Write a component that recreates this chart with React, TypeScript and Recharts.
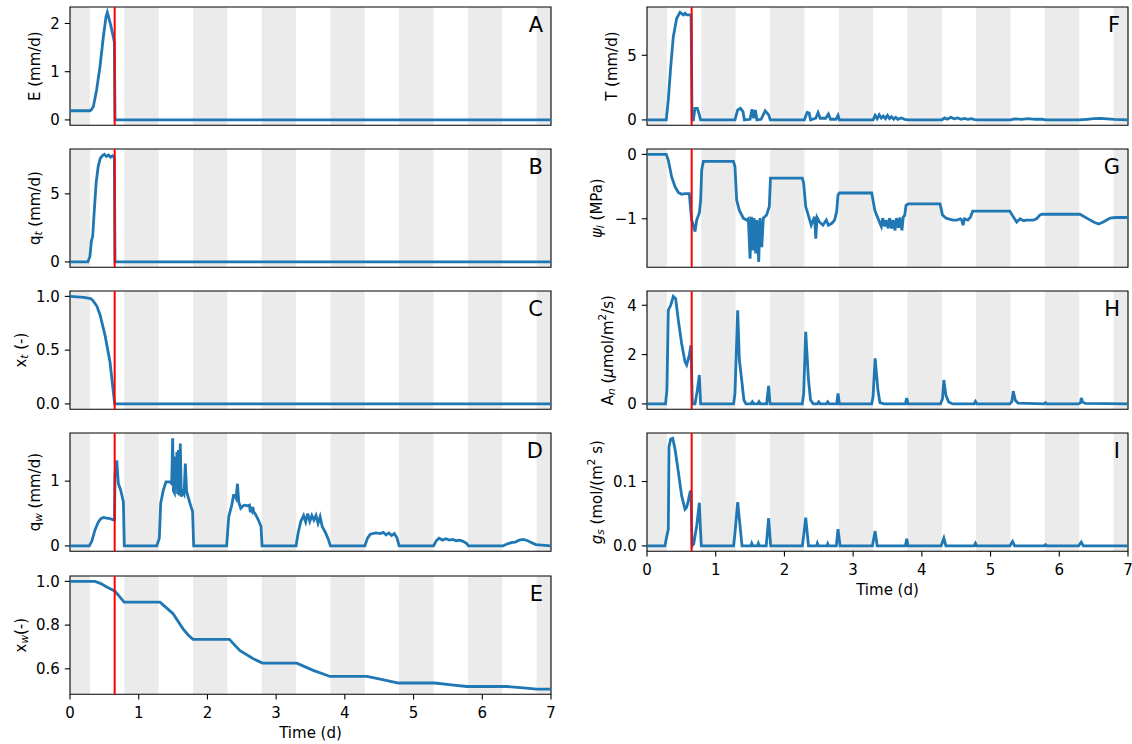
import React from 'react';
import { LineChart, Line, XAxis, YAxis, ReferenceArea, ReferenceLine } from 'recharts';

const FONT = 'DejaVu Sans';
const BLUE = '#1f77b4';
const RED = '#ff0000';
const GRAY = '#ebebeb';

// Night periods (days)
const NIGHT_START = [0, 0.79, 1.79, 2.79, 3.79, 4.79, 5.79, 6.79];
const NIGHT_END = [0.29, 1.29, 2.29, 3.29, 4.29, 5.29, 6.29, 7];
const EVENT_T = 0.65;
const X_TICKS = [0, 1, 2, 3, 4, 5, 6, 7];

// A: E (mm/d)
const tA = [0, 0.29, 0.31, 0.34, 0.387, 0.436, 0.485, 0.524, 0.543, 0.592, 0.645, 0.655, 7];
const vA = [0.19, 0.19, 0.21, 0.28, 0.62, 1.10, 1.72, 2.14, 2.23, 1.97, 1.62, 0, 0];

// B: q_t (mm/d)
const tB = [0, 0.26, 0.29, 0.31, 0.33, 0.35, 0.38, 0.41, 0.44, 0.47, 0.5, 0.53, 0.56, 0.59, 0.62, 0.645, 0.655, 7];
const vB = [0, 0, 0.4, 1.5, 1.9, 3.5, 5.8, 7.0, 7.6, 7.8, 7.9, 7.75, 7.85, 7.7, 7.8, 7.7, 0, 0];

// C: x_t (-)
const tC = [0, 0.2, 0.3, 0.335, 0.39, 0.437, 0.509, 0.582, 0.65, 7];
const vC = [1.0, 0.99, 0.98, 0.96, 0.91, 0.83, 0.64, 0.39, 0.0, 0];

// D: q_w (mm/d)
const tD = [0, 0.28, 0.316, 0.365, 0.413, 0.45, 0.486, 0.534, 0.583, 0.64, 0.648, 0.655, 0.68, 0.704, 0.738, 0.777, 0.79,
  1.262, 1.30, 1.32, 1.358, 1.397, 1.455, 1.48, 1.494, 1.505, 1.52, 1.53, 1.543, 1.556, 1.566, 1.578, 1.59, 1.605, 1.62, 1.64, 1.66, 1.678, 1.697, 1.745, 1.784, 1.80,
  2.28, 2.31, 2.354, 2.38, 2.40, 2.417, 2.437, 2.456, 2.485, 2.52, 2.548, 2.58, 2.611, 2.625, 2.635, 2.65, 2.66, 2.675, 2.693, 2.742, 2.78, 2.795,
  3.29, 3.32, 3.36, 3.40, 3.43, 3.46, 3.49, 3.52, 3.55, 3.58, 3.61, 3.64, 3.67, 3.72, 3.76, 3.79,
  4.29, 4.33, 4.37, 4.45, 4.52, 4.56, 4.60, 4.64, 4.68, 4.72, 4.76, 4.79,
  5.29, 5.33, 5.37, 5.42, 5.47, 5.52, 5.57, 5.62, 5.67, 5.72, 5.77, 5.80,
  6.30, 6.36, 6.42, 6.48, 6.54, 6.60, 6.66, 6.72, 6.78, 7];
const vD = [0, 0, 0.07, 0.25, 0.37, 0.42, 0.44, 0.43, 0.42, 0.40, 0.40, 1.12, 1.32, 0.96, 0.86, 0.68, 0,
  0, 0.12, 0.66, 0.86, 0.99, 0.99, 0.96, 1.66, 0.85, 0.82, 1.38, 0.88, 1.45, 0.80, 1.48, 0.78, 1.58, 0.76, 0.84, 0.80, 1.27, 0.84, 0.66, 0.53, 0,
  0, 0.45, 0.63, 0.78, 0.78, 0.74, 0.96, 0.68, 0.58, 0.62, 0.63, 0.62, 0.63, 0.52, 0.60, 0.55, 0.60, 0.52, 0.50, 0.40, 0.30, 0,
  0, 0.2, 0.38, 0.47, 0.37, 0.50, 0.38, 0.47, 0.40, 0.47, 0.35, 0.45, 0.30, 0.20, 0.10, 0,
  0, 0.12, 0.18, 0.20, 0.19, 0.21, 0.17, 0.20, 0.16, 0.19, 0.12, 0,
  0, 0.08, 0.12, 0.09, 0.11, 0.09, 0.10, 0.08, 0.09, 0.07, 0.04, 0,
  0, 0.03, 0.05, 0.06, 0.09, 0.10, 0.08, 0.05, 0.02, 0];

// E: x_w (-)
const tE = [0, 0.364, 0.45, 0.534, 0.65, 0.728, 0.787, 1.31, 1.40, 1.5, 1.645, 1.72, 1.79, 2.32, 2.47, 2.667, 2.8, 3.3, 3.54, 3.785, 4.32, 4.55, 4.78, 5.31, 5.55, 5.775, 6.356, 6.6, 6.79, 7];
const vE = [1.0, 1.0, 0.99, 0.974, 0.956, 0.928, 0.905, 0.905, 0.88, 0.852, 0.783, 0.755, 0.735, 0.735, 0.684, 0.646, 0.626, 0.626, 0.593, 0.565, 0.565, 0.55, 0.535, 0.535, 0.527, 0.519, 0.519, 0.513, 0.507, 0.507];

// F: T (mm/d)
const tF = [0, 0.28, 0.31, 0.345, 0.383, 0.432, 0.48, 0.529, 0.553, 0.577, 0.626, 0.641, 0.656, 0.675, 0.699, 0.733, 0.762, 0.78,
  1.28, 1.32, 1.359, 1.397, 1.417, 1.5, 1.529, 1.553, 1.577, 1.6, 1.66, 1.72, 1.77, 1.795,
  2.29, 2.33, 2.36, 2.38, 2.456, 2.49, 2.52, 2.6, 2.64, 2.67, 2.75, 2.78, 2.8,
  3.29, 3.32, 3.35, 3.38, 3.41, 3.44, 3.47, 3.50, 3.53, 3.56, 3.59, 3.62, 3.65, 3.7, 3.75, 3.8,
  4.29, 4.33, 4.37, 4.42, 4.47, 4.52, 4.57, 4.62, 4.67, 4.72, 4.77, 4.8,
  5.29, 5.35, 5.45, 5.55, 5.65, 5.75, 5.8,
  6.29, 6.4, 6.5, 6.6, 6.7, 6.8, 7];
const vF = [0, 0, 1.55, 4.12, 6.44, 7.86, 8.32, 8.12, 8.25, 8.12, 8.12, 8.1, 0, 0, 0.9, 0.9, 0.39, 0,
  0, 0.77, 0.9, 0.64, 0, 0.05, 0.82, 0.13, 0.77, 0, 0.05, 0.7, 0.39, 0,
  0, 0.57, 0.52, 0, 0.13, 0.57, 0.13, 0.13, 0.46, 0.05, 0.05, 0.36, 0,
  0, 0.35, 0.1, 0.4, 0.15, 0.3, 0.1, 0.35, 0.1, 0.25, 0.05, 0.2, 0.05, 0.15, 0.05, 0,
  0, 0.15, 0.05, 0.2, 0.08, 0.15, 0.05, 0.12, 0.05, 0.1, 0.03, 0,
  0, 0.08, 0.05, 0.1, 0.05, 0.06, 0,
  0, 0.05, 0.1, 0.12, 0.08, 0.04, 0];

// G: psi_l (MPa)
const tG = [0, 0.28, 0.31, 0.359, 0.407, 0.456, 0.504, 0.553, 0.616, 0.636, 0.65, 0.674, 0.699, 0.723, 0.762, 0.781, 0.796, 0.82,
  1.257, 1.28, 1.305, 1.344, 1.402, 1.45, 1.475, 1.5, 1.52, 1.54, 1.558, 1.582, 1.60, 1.626, 1.645, 1.67, 1.693, 1.74, 1.78, 1.797, 1.81,
  2.26, 2.28, 2.31, 2.36, 2.39, 2.42, 2.44, 2.456, 2.475, 2.51, 2.56, 2.61, 2.64, 2.69, 2.73, 2.76, 2.78, 2.8,
  3.27, 3.316, 3.36, 3.41, 3.43, 3.46, 3.48, 3.51, 3.53, 3.56, 3.58, 3.61, 3.63, 3.66, 3.68, 3.71, 3.73, 3.75, 3.77, 3.8,
  4.265, 4.30, 4.35, 4.41, 4.46, 4.51, 4.56, 4.58, 4.6, 4.62, 4.67, 4.71, 4.74, 4.77,
  5.28, 5.33, 5.38, 5.43, 5.48, 5.52, 5.57, 5.62, 5.67, 5.72, 5.75,
  6.3, 6.4, 6.5, 6.57, 6.64, 6.74, 6.82, 7];
const vG = [0, 0, -0.09, -0.35, -0.50, -0.59, -0.62, -0.61, -0.61, -0.87, -1.02, -1.10, -1.2, -1.02, -0.91, -0.71, -0.24, -0.11,
  -0.11, -0.19, -0.71, -0.87, -0.99, -1.02, -1.0, -1.62, -0.97, -1.49, -0.99, -1.54, -1.02, -1.67, -0.99, -1.44, -0.99, -0.94, -0.81, -0.37, -0.37,
  -0.37, -0.45, -0.81, -0.99, -1.10, -1.02, -0.97, -1.31, -0.98, -1.05, -1.10, -1.02, -1.10, -1.07, -1.02, -0.89, -0.63, -0.60,
  -0.60, -0.87, -0.99, -1.12, -0.99, -1.12, -1.02, -1.15, -0.99, -1.15, -1.02, -1.18, -0.99, -1.14, -0.98, -1.18, -0.97, -0.95, -0.79, -0.77,
  -0.77, -0.94, -0.99, -1.01, -1.02, -1.02, -1.0, -1.02, -1.10, -1.0, -1.02, -0.97, -0.88, -0.88,
  -0.88, -0.97, -1.05, -1.0, -1.03, -1.02, -1.02, -1.02, -1.0, -0.94, -0.93,
  -0.93, -0.99, -1.05, -1.08, -1.05, -0.99, -0.98, -0.98];

// H: A_n (umol/m2/s)
const tH = [0, 0.27, 0.29, 0.31, 0.345, 0.383, 0.417, 0.456, 0.504, 0.553, 0.577, 0.616, 0.64, 0.66, 0.699, 0.733, 0.762, 0.78,
  1.26, 1.28, 1.32, 1.344, 1.378, 1.41, 1.44, 1.51, 1.534, 1.555, 1.61, 1.63, 1.65, 1.74, 1.77, 1.79,
  2.26, 2.28, 2.31, 2.35, 2.38, 2.42, 2.48, 2.5, 2.52, 2.61, 2.63, 2.65, 2.76, 2.78, 2.8,
  3.27, 3.29, 3.32, 3.36, 3.39, 3.45, 3.76, 3.78, 3.8,
  4.27, 4.30, 4.32, 4.35, 4.39, 4.45, 4.76, 4.78, 4.8,
  5.28, 5.31, 5.33, 5.36, 5.4, 5.78, 5.8, 5.82,
  6.28, 6.31, 6.32, 6.34, 6.38, 7];
const vH = [0, 0, 0.57, 3.8, 4.0, 4.36, 4.27, 3.39, 2.45, 1.71, 1.58, 1.98, 2.38, 0, 0, 0.57, 1.17, 0,
  0, 0.43, 3.8, 1.78, 0.97, 0.16, 0, 0, 0.09, 0, 0, 0.09, 0, 0, 0.73, 0,
  0, 0.43, 2.92, 0.97, 0.16, 0, 0, 0.08, 0, 0, 0.08, 0, 0, 0.43, 0,
  0, 0.3, 1.85, 0.57, 0.05, 0, 0, 0.24, 0,
  0, 0.2, 0.97, 0.35, 0.08, 0, 0, 0.1, 0,
  0, 0.1, 0.52, 0.15, 0.03, 0, 0.05, 0,
  0, 0.05, 0.24, 0.08, 0.02, 0];

// I: g_s (mol/(m2 s))
const tI = [0, 0.26, 0.29, 0.31, 0.32, 0.345, 0.374, 0.407, 0.456, 0.504, 0.553, 0.577, 0.6, 0.626, 0.64, 0.655, 0.68, 0.723, 0.762, 0.775, 0.79,
  1.26, 1.28, 1.32, 1.344, 1.383, 1.51, 1.524, 1.54, 1.605, 1.62, 1.635, 1.735, 1.77, 1.8,
  2.26, 2.28, 2.31, 2.35, 2.47, 2.48, 2.495, 2.62, 2.63, 2.64, 2.755, 2.78, 2.81,
  3.28, 3.32, 3.35, 3.76, 3.78, 3.8,
  4.28, 4.32, 4.35, 4.76, 4.78, 4.8,
  5.28, 5.32, 5.35, 5.78, 5.8, 5.82,
  6.28, 6.32, 6.35, 7];
const vI = [0, 0, 0.016, 0.026, 0.154, 0.166, 0.167, 0.151, 0.115, 0.078, 0.057, 0.06, 0.07, 0.083, 0.086, 0, 0.003, 0.031, 0.067, 0.033, 0,
  0, 0.02, 0.068, 0.042, 0, 0, 0.004, 0, 0, 0.004, 0, 0, 0.043, 0,
  0, 0.016, 0.044, 0, 0, 0.004, 0, 0, 0.003, 0, 0, 0.026, 0,
  0, 0.023, 0, 0, 0.011, 0,
  0, 0.012, 0, 0, 0.004, 0,
  0, 0.007, 0, 0, 0.002, 0,
  0, 0.006, 0, 0];

type Part = { s: string; sub?: boolean; sup?: boolean; it?: boolean };

const LABEL_A: Part[] = [{ s: 'E (mm/d)' }];
const LABEL_B: Part[] = [{ s: 'q' }, { s: 't', sub: true, it: true }, { s: ' (mm/d)' }];
const LABEL_C: Part[] = [{ s: 'x' }, { s: 't', sub: true, it: true }, { s: ' (-)' }];
const LABEL_D: Part[] = [{ s: 'q' }, { s: 'w', sub: true, it: true }, { s: ' (mm/d)' }];
const LABEL_E: Part[] = [{ s: 'x' }, { s: 'w', sub: true, it: true }, { s: '(-)' }];
const LABEL_F: Part[] = [{ s: 'T (mm/d)' }];
const LABEL_G: Part[] = [{ s: 'ψ', it: true }, { s: 'l', sub: true, it: true }, { s: ' (MPa)' }];
const LABEL_H: Part[] = [{ s: 'A' }, { s: 'n', sub: true, it: true }, { s: ' (' }, { s: 'μ', it: true }, { s: 'mol/m' }, { s: '2', sup: true }, { s: '/s)' }];
const LABEL_I: Part[] = [{ s: 'g', it: true }, { s: 's', sub: true, it: true }, { s: ' (mol/(m' }, { s: '2', sup: true }, { s: ' s)' }];

const YW = 70;
const PW = 481;
const PH = 118.3;
const MT = 4;
const MR = 6;
const MB = 4;
const XH = 50;
const FS = 15;
const SUBFS = 10.5;
const TICK = 5.2;

function fmt(v: number, d: number) {
  const s = v.toFixed(d);
  return s.startsWith('-') ? '\u2212' + s.slice(1) : s;
}

function renderParts(parts: Part[]) {
  let shift = 0;
  return parts.map((p, i) => {
    const target = p.sub ? 3.5 : p.sup ? -6 : 0;
    const dy = target - shift;
    shift = target;
    return (
      <tspan key={i} dy={dy} fontSize={p.sub || p.sup ? SUBFS : FS} fontStyle={p.it ? 'italic' : 'normal'} style={{ whiteSpace: 'pre' }}>
        {p.s}
      </tspan>
    );
  });
}

function YTitle(props: any) {
  const { cx, cy, parts } = props;
  return (
    <text x={cx} y={cy} transform={`rotate(-90 ${cx} ${cy})`} textAnchor="middle" dominantBaseline="central" fontFamily={FONT} fontSize={FS} fill="#000">
      {renderParts(parts)}
    </text>
  );
}

function XTitle(props: any) {
  const { cx, cy } = props;
  return (
    <text x={cx} y={cy} textAnchor="middle" dominantBaseline="central" fontFamily={FONT} fontSize={FS} fill="#000">
      Time (d)
    </text>
  );
}

function Letter(props: any) {
  const { posX, posY, text } = props;
  return (
    <text x={posX} y={posY} textAnchor="end" fontFamily={FONT} fontSize={21} fill="#000">
      {text}
    </text>
  );
}

type PanelProps = {
  plotLeft: number;
  plotTop: number;
  t: number[];
  v: number[];
  domain: [number, number];
  ticks: number[];
  decimals: number;
  label: Part[];
  labelX: number;
  letter: string;
  showX?: boolean;
};

function Panel(p: PanelProps) {
  const data = p.t.map((t, i) => ({ t, v: p.v[i] }));
  const h = MT + PH + (p.showX ? XH : 0) + MB;
  const w = YW + PW + MR;
  const chartLeft = p.plotLeft - YW;
  const tickStyle = { fontSize: FS, fill: '#000', fontFamily: FONT };
  return (
    <div style={{ position: 'absolute', left: chartLeft, top: p.plotTop - MT }}>
      <LineChart width={w} height={h} data={data} margin={{ top: MT, right: MR, left: 0, bottom: MB }}>
        <XAxis
          type="number"
          dataKey="t"
          domain={[0, 7]}
          ticks={X_TICKS}
          interval={0}
          allowDataOverflow
          hide={!p.showX}
          height={XH}
          tickSize={TICK}
          tickMargin={7.4}
          axisLine={false}
          tickLine={{ stroke: '#000', strokeWidth: 1.1 }}
          tick={tickStyle}
          label={p.showX ? <XTitle cx={YW + PW / 2} cy={MT + PH + 39} /> : undefined}
        />
        <YAxis
          type="number"
          domain={p.domain}
          ticks={p.ticks}
          interval={0}
          allowDataOverflow
          width={YW}
          tickSize={TICK}
          tickMargin={5}
          axisLine={false}
          tickLine={{ stroke: '#000', strokeWidth: 1.1 }}
          tick={tickStyle}
          tickFormatter={(val: number) => fmt(val, p.decimals)}
          label={<YTitle cx={p.labelX - chartLeft} cy={MT + PH / 2} parts={p.label} />}
        />
        {NIGHT_START.map((s, i) => (
          <ReferenceArea key={'n' + i} x1={s} x2={NIGHT_END[i]} fill={GRAY} fillOpacity={1} stroke="none" ifOverflow="hidden" />
        ))}
        <Line type="linear" dataKey="v" stroke={BLUE} strokeWidth={2.8} dot={false} isAnimationActive={false} />
        <ReferenceLine x={EVENT_T} stroke={RED} strokeWidth={2} />
        <ReferenceArea
          x1={0}
          x2={7}
          y1={p.domain[0]}
          y2={p.domain[1]}
          fill="none"
          fillOpacity={0}
          stroke="#000"
          strokeWidth={1.1}
          ifOverflow="visible"
          label={<Letter posX={YW + PW - 8} posY={MT + 25} text={p.letter} />}
        />
      </LineChart>
    </div>
  );
}

const LEFT_X = 70;
const RIGHT_X = 647;
const TOPS = [6.7, 148.9, 291.1, 433.3, 575.5];

export default function App() {
  return (
    <div style={{ position: 'absolute', left: 0, top: 0, width: 1132, height: 744, background: '#fff' }}>
      <Panel plotLeft={LEFT_X} plotTop={TOPS[0]} t={tA} v={vA} domain={[-0.1115, 2.3415]} ticks={[0, 1, 2]} decimals={0} label={LABEL_A} labelX={35} letter="A" />
      <Panel plotLeft={LEFT_X} plotTop={TOPS[1]} t={tB} v={vB} domain={[-0.395, 8.295]} ticks={[0, 5]} decimals={0} label={LABEL_B} labelX={35} letter="B" />
      <Panel plotLeft={LEFT_X} plotTop={TOPS[2]} t={tC} v={vC} domain={[-0.05, 1.05]} ticks={[0, 0.5, 1]} decimals={1} label={LABEL_C} labelX={21} letter="C" />
      <Panel plotLeft={LEFT_X} plotTop={TOPS[3]} t={tD} v={vD} domain={[-0.083, 1.743]} ticks={[0, 1]} decimals={0} label={LABEL_D} labelX={35} letter="D" />
      <Panel plotLeft={LEFT_X} plotTop={TOPS[4]} t={tE} v={vE} domain={[0.4834, 1.0246]} ticks={[0.6, 0.8, 1.0]} decimals={1} label={LABEL_E} labelX={21} letter="E" showX />
      <Panel plotLeft={RIGHT_X} plotTop={TOPS[0]} t={tF} v={vF} domain={[-0.416, 8.736]} ticks={[0, 5]} decimals={0} label={LABEL_F} labelX={612} letter="F" />
      <Panel plotLeft={RIGHT_X} plotTop={TOPS[1]} t={tG} v={vG} domain={[-1.7535, 0.0835]} ticks={[-1, 0]} decimals={0} label={LABEL_G} labelX={597} letter="G" />
      <Panel plotLeft={RIGHT_X} plotTop={TOPS[2]} t={tH} v={vH} domain={[-0.218, 4.578]} ticks={[0, 2, 4]} decimals={0} label={LABEL_H} labelX={608} letter="H" />
      <Panel plotLeft={RIGHT_X} plotTop={TOPS[3]} t={tI} v={vI} domain={[-0.00835, 0.17535]} ticks={[0, 0.1]} decimals={1} label={LABEL_I} labelX={597} letter="I" showX />
    </div>
  );
}
